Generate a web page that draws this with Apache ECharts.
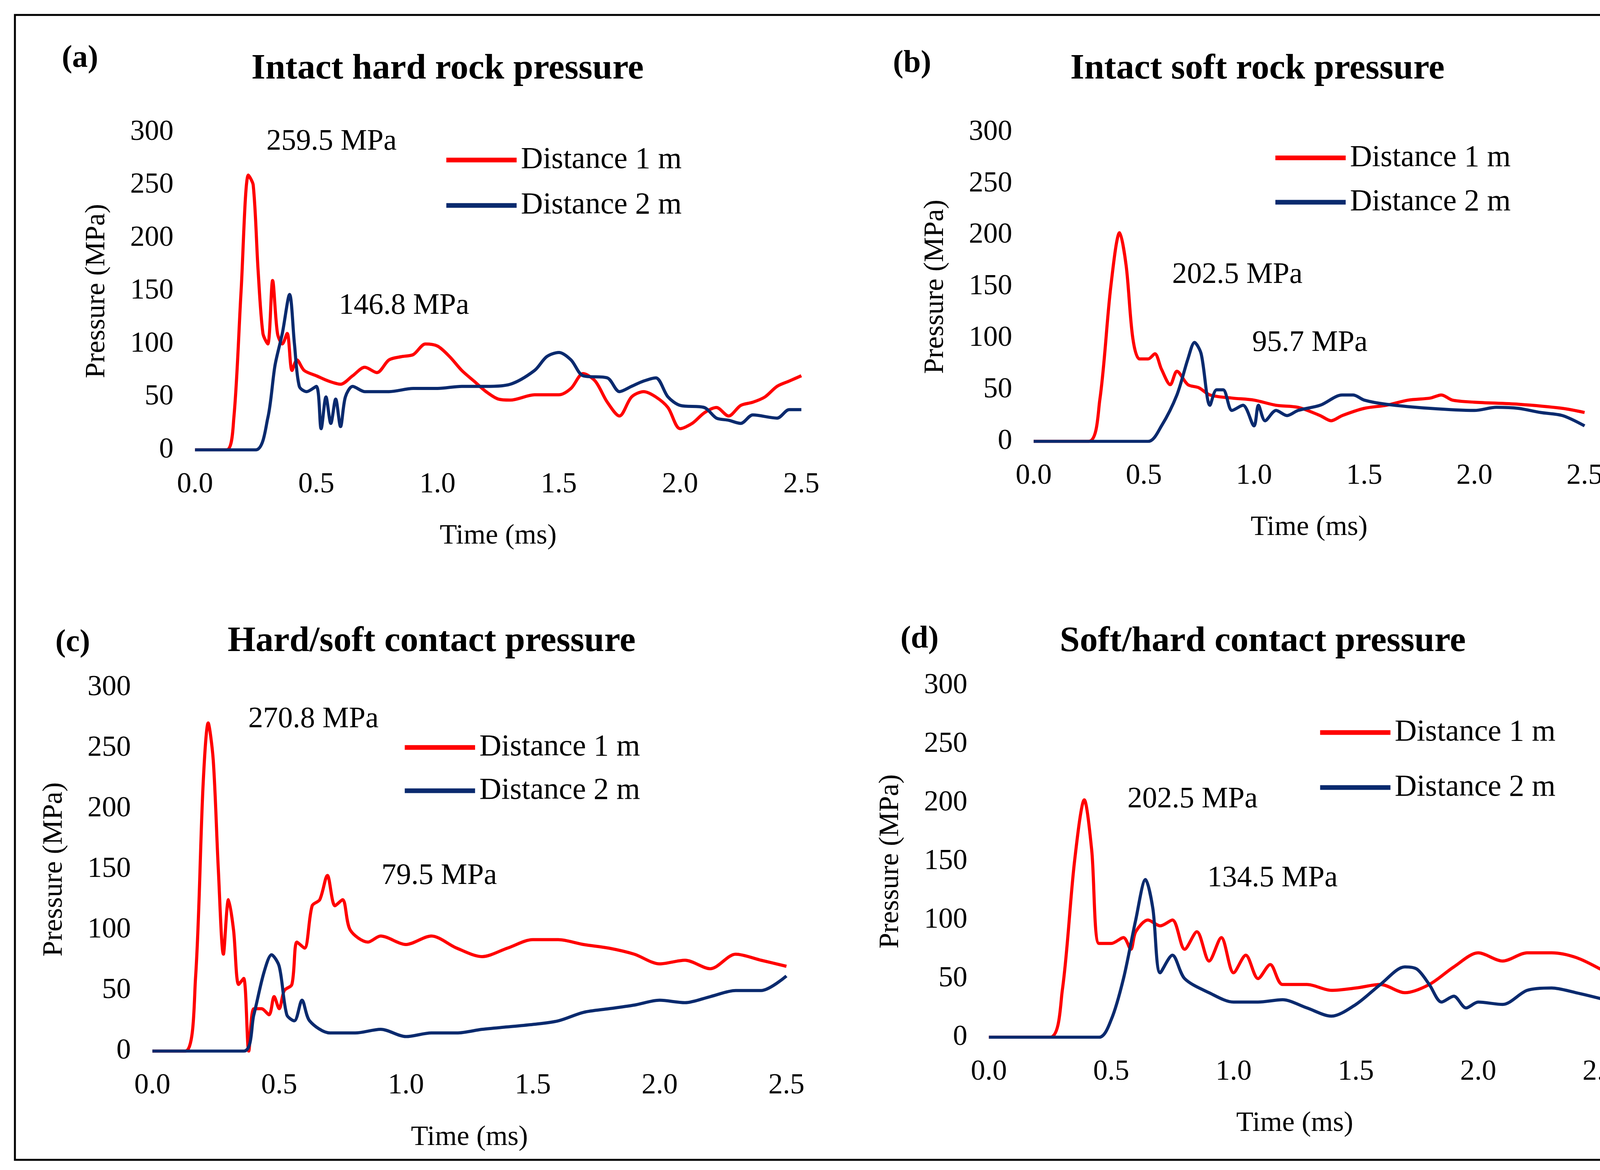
<!DOCTYPE html>
<html><head><meta charset="utf-8">
<script src="https://cdn.jsdelivr.net/npm/echarts@6/dist/echarts.min.js"></script>
<style>html,body{margin:0;background:#fff}#c{width:4277px;height:2994px}</style>
</head><body><div id="c"></div>
<script>
const xTicks = [0.0, 0.5, 1.0, 1.5, 2.0, 2.5];
const yTicks = [0, 50, 100, 150, 200, 250, 300];
const titles = ['Intact hard rock pressure','Intact soft rock pressure','Hard/soft contact pressure','Soft/hard contact pressure'];
const tags = ['(a)','(b)','(c)','(d)'];
const peaks = [['259.5 MPa','146.8 MPa'],['202.5 MPa','95.7 MPa'],['270.8 MPa','79.5 MPa'],['202.5 MPa','134.5 MPa']];
const seriesNames = ['Distance 1 m','Distance 2 m'];

const aRed = [[0,0],[0.13,0],[0.16,30],[0.19,150],[0.22,259.5],[0.24,250],[0.26,170],[0.28,110],[0.30,100],[0.32,160],[0.34,110],[0.36,100],[0.38,110],[0.40,75],[0.42,85],[0.45,75],[0.5,70],[0.55,65],[0.6,62],[0.65,70],[0.7,78],[0.75,73],[0.8,85],[0.85,88],[0.9,90],[0.95,100],[1.0,98],[1.05,88],[1.1,75],[1.15,65],[1.2,55],[1.25,48],[1.3,47],[1.4,52],[1.5,52],[1.55,58],[1.6,72],[1.65,65],[1.7,45],[1.75,32],[1.8,50],[1.85,55],[1.9,50],[1.95,40],[2.0,20],[2.05,25],[2.1,35],[2.15,40],[2.2,32],[2.25,42],[2.3,45],[2.35,50],[2.4,60],[2.45,65],[2.5,70]];
const aBlue = [[0,0],[0.25,0],[0.3,30],[0.33,80],[0.36,110],[0.39,146.8],[0.41,100],[0.43,60],[0.46,55],[0.5,60],[0.52,20],[0.54,50],[0.56,25],[0.58,48],[0.6,22],[0.62,50],[0.65,60],[0.7,55],[0.8,55],[0.9,58],[1.0,58],[1.1,60],[1.2,60],[1.3,62],[1.4,75],[1.45,88],[1.5,92],[1.55,85],[1.6,70],[1.7,68],[1.75,55],[1.8,60],[1.85,65],[1.9,68],[1.95,50],[2.0,42],[2.1,40],[2.15,30],[2.2,28],[2.25,25],[2.3,33],[2.4,30],[2.45,38],[2.5,38]];
const bRed = [[0,0],[0.25,0],[0.3,40],[0.35,150],[0.39,202.5],[0.42,170],[0.45,100],[0.48,80],[0.52,80],[0.55,85],[0.58,70],[0.62,55],[0.65,68],[0.7,55],[0.75,52],[0.8,45],[0.9,42],[1.0,40],[1.1,35],[1.2,33],[1.3,25],[1.35,20],[1.4,25],[1.5,32],[1.6,35],[1.7,40],[1.8,42],[1.85,45],[1.9,40],[2.0,38],[2.2,36],[2.4,32],[2.5,28]];
const bBlue = [[0,0],[0.52,0],[0.58,15],[0.65,45],[0.7,80],[0.73,96],[0.76,85],[0.8,35],[0.83,50],[0.86,50],[0.9,30],[0.95,35],[1.0,15],[1.02,35],[1.05,20],[1.1,30],[1.15,25],[1.2,30],[1.3,35],[1.4,45],[1.45,45],[1.5,40],[1.6,36],[1.8,32],[2.0,30],[2.1,33],[2.2,32],[2.3,28],[2.4,25],[2.5,15]];
const cRed = [[0,0],[0.13,0],[0.17,60],[0.2,220],[0.22,270.8],[0.24,240],[0.26,150],[0.28,80],[0.3,125],[0.32,100],[0.34,55],[0.36,60],[0.38,0],[0.4,35],[0.43,35],[0.46,30],[0.48,45],[0.5,35],[0.52,50],[0.55,55],[0.57,90],[0.6,85],[0.63,120],[0.66,125],[0.69,145],[0.72,120],[0.75,125],[0.78,100],[0.85,90],[0.9,95],[1.0,88],[1.1,95],[1.2,85],[1.3,78],[1.4,85],[1.5,92],[1.6,92],[1.7,88],[1.8,85],[1.9,80],[2.0,72],[2.1,75],[2.2,68],[2.3,80],[2.4,75],[2.5,70]];
const cBlue = [[0,0],[0.36,0],[0.4,30],[0.44,65],[0.47,79.5],[0.5,70],[0.53,30],[0.56,25],[0.59,42],[0.62,25],[0.7,15],[0.8,15],[0.9,18],[1.0,12],[1.1,15],[1.2,15],[1.3,18],[1.4,20],[1.5,22],[1.6,25],[1.7,32],[1.8,35],[1.9,38],[2.0,42],[2.1,40],[2.2,45],[2.3,50],[2.4,50],[2.5,62]];
const dRed = [[0,0],[0.25,0],[0.3,40],[0.35,150],[0.39,202.5],[0.42,160],[0.45,80],[0.5,80],[0.55,85],[0.58,75],[0.6,90],[0.65,100],[0.7,95],[0.75,100],[0.8,75],[0.85,90],[0.9,65],[0.95,85],[1.0,55],[1.05,70],[1.1,50],[1.15,62],[1.2,45],[1.3,45],[1.4,40],[1.5,42],[1.6,45],[1.7,38],[1.8,45],[1.9,60],[2.0,72],[2.1,65],[2.2,72],[2.3,72],[2.4,68],[2.5,58]];
const dBlue = [[0,0],[0.45,0],[0.5,15],[0.55,50],[0.6,100],[0.64,134.5],[0.67,110],[0.7,55],[0.75,70],[0.8,50],[0.9,38],[1.0,30],[1.1,30],[1.2,32],[1.3,25],[1.4,18],[1.5,28],[1.6,45],[1.7,60],[1.75,58],[1.8,45],[1.85,30],[1.9,35],[1.95,25],[2.0,30],[2.1,28],[2.2,40],[2.3,42],[2.4,38],[2.5,33]];
const panelData = [[aRed,aBlue],[bRed,bBlue],[cRed,cBlue],[dRed,dBlue]];

const S = 2.728;
const F = 'Liberation Serif';
const RED = '#ff0000', BLUE = '#0a2a6e';
const grids = [[183,752,124,422],[970,1487,124,414],[143,738,645,986],[928,1502,643,973]];
const titlePos = [[420,65],[1180,65],[405,602],[1185,602]];
const tagPos = [[58,55],[838,60],[52,603],[845,600]];
const annPos = [[[250,133],[318,287]],[[1100,258],[1175,322]],[[233,675],[358,822]],[[1058,750],[1133,824]]];
const legPos = [[417,150],[1195,148],[378,701],[1237,687]];
const legGap = [46,45,44,55];

const option = {animation:false, grid:[], xAxis:[], yAxis:[], series:[], legend:[], graphic:[]};
const labelStyle = {fontFamily:F, fontSize:74, color:'#000'};
const nameStyle = {fontFamily:F, fontSize:72, color:'#000'};
grids.forEach((g,i)=>{
  option.grid.push({left:g[0]*S, width:(g[1]-g[0])*S, top:g[2]*S, height:(g[3]-g[2])*S});
  option.xAxis.push({type:'value', gridIndex:i, min:0, max:2.5, interval:0.5,
    axisLine:{show:false}, axisTick:{show:false}, splitLine:{show:false},
    axisLabel:Object.assign({margin:52, formatter:v=>v.toFixed(1)}, labelStyle),
    name:'Time (ms)', nameLocation:'middle', nameGap:185, nameTextStyle:nameStyle});
  option.yAxis.push({type:'value', gridIndex:i, min:0, max:300, interval:50,
    axisLine:{show:false}, axisTick:{show:false}, splitLine:{show:false},
    axisLabel:Object.assign({margin:55}, labelStyle),
    name:'Pressure (MPa)', nameLocation:'middle', nameGap:215, nameTextStyle:nameStyle});
  panelData[i].forEach((d,k)=>{
    option.series.push({type:'line', name:seriesNames[k], xAxisIndex:i, yAxisIndex:i, data:d,
      smooth:0.3, showSymbol:false, lineStyle:{width:8, color:k?BLUE:RED}, itemStyle:{color:k?BLUE:RED}});
  });
  option.legend.push({data:seriesNames, orient:'vertical', left:legPos[i][0]*S, top:(legPos[i][1]-16)*S,
    itemWidth:180, itemHeight:12, itemGap:(legGap[i]-32)*S, icon:'rect',
    textStyle:{fontFamily:F, fontSize:78, color:'#000', padding:[0,0,0,6]}});
  option.graphic.push({type:'text', x:titlePos[i][0]*S, y:titlePos[i][1]*S,
    style:{text:titles[i], font:'bold 92px "'+F+'"', fill:'#000', align:'center', verticalAlign:'middle'}});
  option.graphic.push({type:'text', x:tagPos[i][0]*S, y:tagPos[i][1]*S,
    style:{text:tags[i], font:'bold 80px "'+F+'"', fill:'#000', verticalAlign:'middle'}});
  annPos[i].forEach((p,k)=>option.graphic.push({type:'text', x:p[0]*S, y:p[1]*S,
    style:{text:peaks[i][k], font:'76px "'+F+'"', fill:'#000', verticalAlign:'middle'}}));
});
option.graphic.push({type:'rect', shape:{x:14*S, y:14*S, width:1541*S, height:1074*S}, style:{fill:'none', stroke:'#000', lineWidth:5}});
const chart = echarts.init(document.getElementById('c'));
chart.setOption(option);
</script></body></html>
